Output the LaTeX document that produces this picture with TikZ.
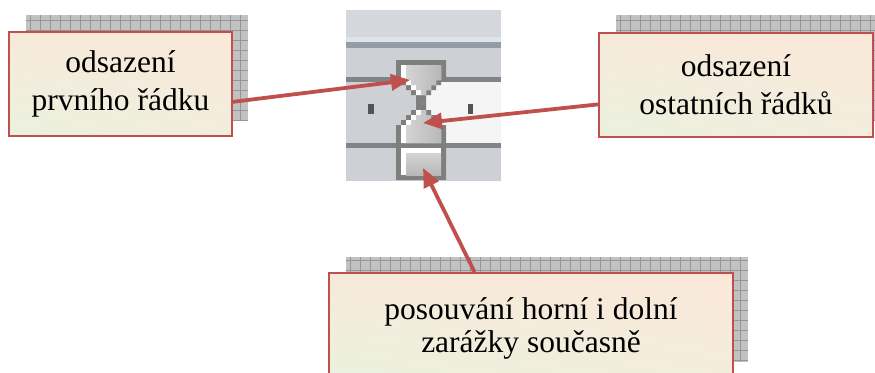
\documentclass[tikz,border=0pt]{standalone}
\usepackage{fontspec}
\setmainfont{Liberation Serif}
\usetikzlibrary{arrows.meta,shadings}
\definecolor{arr}{RGB}{192,80,77}
\definecolor{peach}{RGB}{251,232,217}
\definecolor{mixa}{RGB}{247,234,219}
\definecolor{mixb}{RGB}{242,237,221}
\definecolor{lgreen}{RGB}{234,241,222}
\definecolor{shfill}{RGB}{194,194,194}
\definecolor{shline}{RGB}{150,150,150}
\definecolor{rtop}{RGB}{212,215,220}
\definecolor{rlight}{RGB}{224,228,234}
\definecolor{rband}{RGB}{150,156,167}
\definecolor{rmid}{RGB}{205,208,213}
\definecolor{rline}{RGB}{128,132,137}
\definecolor{rwhite}{RGB}{245,245,245}
\definecolor{rmark}{RGB}{79,84,89}
\definecolor{hgborder}{RGB}{127,127,127}
\definecolor{hglight}{RGB}{212,212,212}
\definecolor{hgdark}{RGB}{184,184,184}
\definecolor{hgneck}{RGB}{123,133,145}
\tikzset{
  callout/.style={draw=arr, line width=2pt, upper left=mixa, upper right=peach,
    lower left=lgreen, lower right=mixb, inner sep=0pt, align=center,
    font=\fontsize{31.5}{38}\selectfont},
  shadowfill/.style={fill=shfill},
  shadowgrid/.style={draw=shline, line width=0.8pt},
  conn/.style={draw=arr, line width=3.8pt, -{Triangle[length=19pt,width=16pt]}}
}
\newcommand{\meshshadow}[4]{%
  \fill[shadowfill] (#1,#2) rectangle (#3,#4);
  \begin{scope}
    \clip (#1,#2) rectangle (#3,#4);
    \foreach \gx in {0,10,...,880} {\draw[shadowgrid] (\gx,#2) -- (\gx,#4);}
    \foreach \gy in {0,10,...,380} {\draw[shadowgrid] (#1,\gy) -- (#3,\gy);}
  \end{scope}}
\begin{document}
\begin{tikzpicture}[x=1pt,y=-1pt]
\useasboundingbox (0,0) rectangle (875,372);

% shadows
\meshshadow{26}{15}{248}{120}
\meshshadow{616}{15}{880}{120}
\meshshadow{346}{257}{748}{362}

% ruler picture
\fill[rtop] (346,10) rectangle (501,181);
\fill[rlight] (346,37) rectangle (501,42);
\fill[rband] (346,42) rectangle (501,48);
\fill[rmid] (346,48) rectangle (501,181);
\fill[rline] (346,77) rectangle (501,82);
\fill[rwhite] (421,82) rectangle (501,143);
\fill[rline] (346,143) rectangle (501,148);
\fill[rmark] (368,104) rectangle (374,114);
\fill[rmark] (468,104) rectangle (473,114);

% hourglass outer
\fill[hgborder] (396,60) -- (446,60) -- (446,80) -- (441,80) -- (441,85) -- (436,85)
  -- (436,90) -- (431,90) -- (431,95) -- (426,95) -- (426,110) -- (431,110) -- (431,115)
  -- (436,115) -- (436,120) -- (441,120) -- (441,125) -- (446,125) -- (446,180)
  -- (396,180) -- (396,125) -- (401,125) -- (401,120) -- (406,120) -- (406,115)
  -- (411,115) -- (411,110) -- (416,110) -- (416,95) -- (411,95) -- (411,90)
  -- (406,90) -- (406,85) -- (401,85) -- (401,80) -- (396,80) -- cycle;
\fill[hgneck] (421,100) rectangle (426,105);
% top chamber
\fill[white] (401,65) -- (441,65) -- (441,80) -- (436,80) -- (436,85) -- (431,85)
  -- (431,90) -- (426,90) -- (426,95) -- (416,95) -- (416,90) -- (411,90) -- (411,85)
  -- (406,85) -- (406,80) -- (401,80) -- cycle;
\shade[left color=hglight, right color=hgdark] (406,65) -- (441,65) -- (441,80) -- (436,80)
  -- (436,85) -- (431,85) -- (431,90) -- (426,90) -- (426,95) -- (421,95) -- (421,90)
  -- (416,90) -- (416,85) -- (411,85) -- (411,80) -- (406,80) -- cycle;
% lower chamber
\fill[white] (416,110) -- (426,110) -- (426,115) -- (431,115) -- (431,120) -- (436,120)
  -- (436,125) -- (441,125) -- (441,143) -- (401,143) -- (401,125) -- (406,125)
  -- (406,120) -- (411,120) -- (411,115) -- (416,115) -- cycle;
\shade[left color=hglight, right color=hgdark] (421,110) -- (426,110) -- (426,115)
  -- (431,115) -- (431,120) -- (436,120) -- (436,125) -- (441,125) -- (441,143)
  -- (406,143) -- (406,125) -- (411,125) -- (411,120) -- (416,120) -- (416,115)
  -- (421,115) -- cycle;
% bottom box
\fill[white] (401,148) rectangle (441,175);
\shade[top color=hglight, bottom color=hgdark] (406,153) rectangle (441,175);

% callout boxes
\node[callout, minimum width=223pt, minimum height=104pt] (b1) at (120.5,84)
  {odsazení\\prvního řádku};
\node[callout, minimum width=274pt, minimum height=104pt] (b2) at (736,85)
  {odsazení\\ostatních řádků};
\node[callout, minimum width=404pt, minimum height=111pt,
  font=\fontsize{31.5}{33}\selectfont] (b3) at (531,328.5)
  {posouvání horní i dolní\\zarážky současně};

% arrow targets
\coordinate (t1) at (410,80);
\coordinate (t2) at (423,123);
\coordinate (t3) at (423,168);

\draw[conn] (b1.-9.7) -- (t1);
\draw[conn] (b2.188.3) -- (t2);
\draw[conn] (b3.135.5) -- (t3);
\end{tikzpicture}
\end{document}
